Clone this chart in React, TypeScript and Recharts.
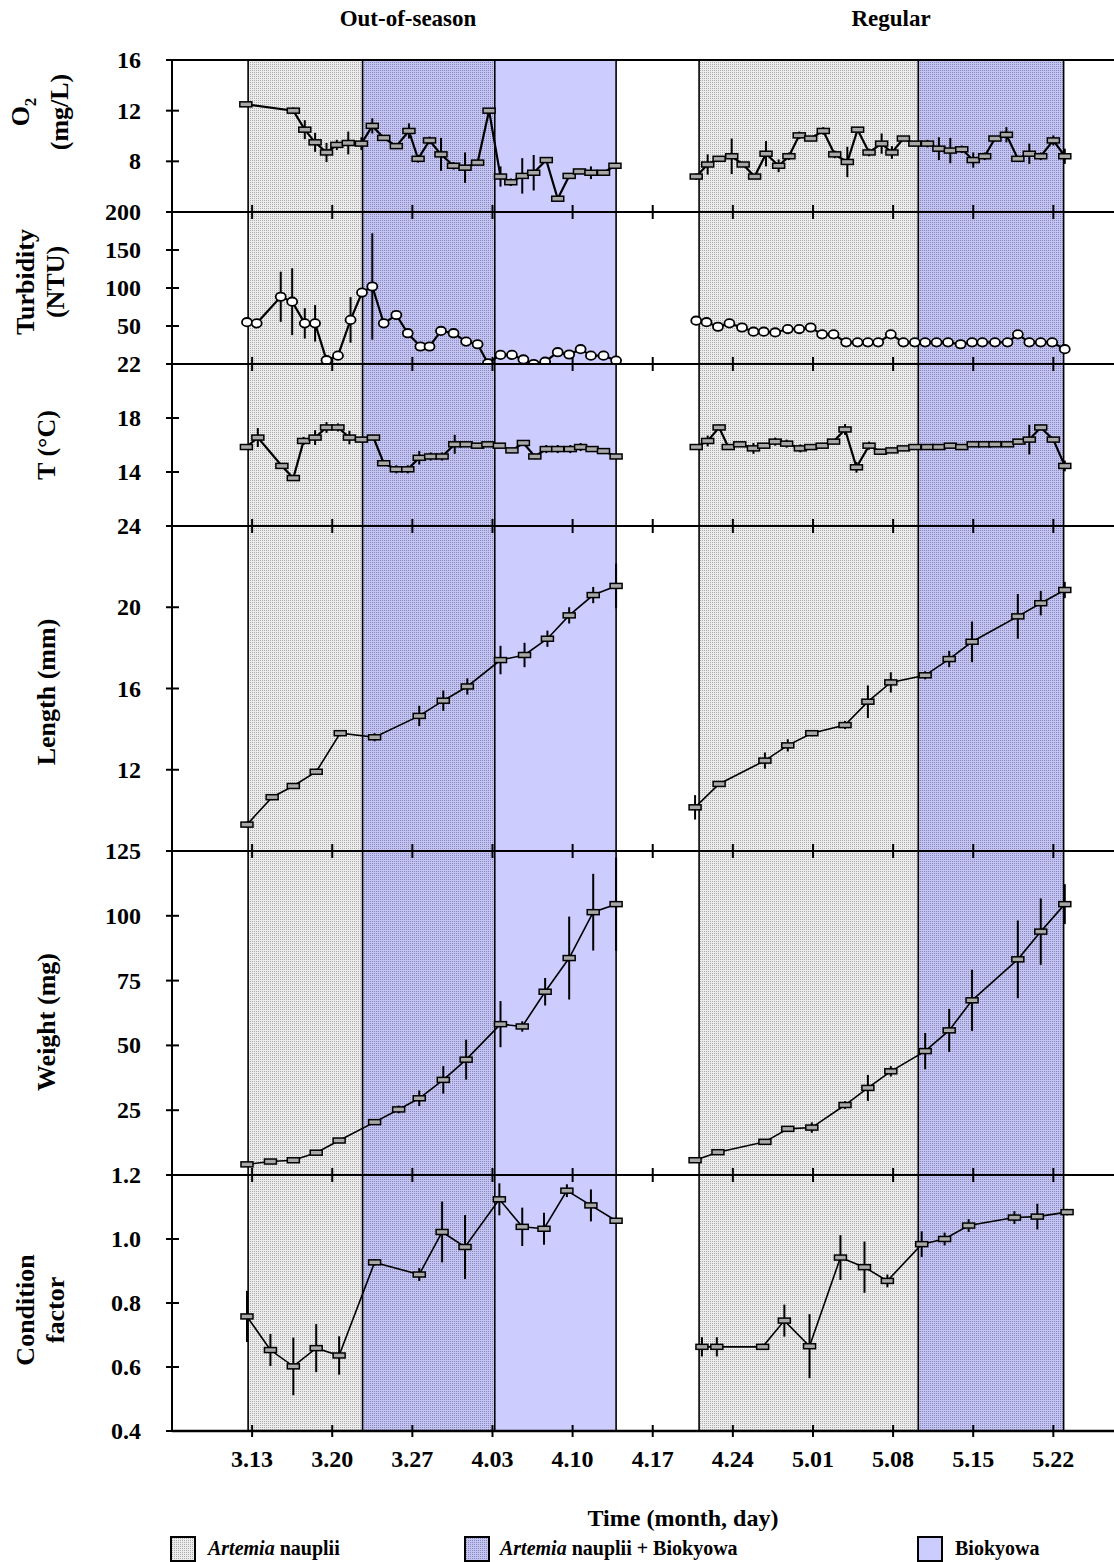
import React from 'react';
import { ComposedChart, Line, XAxis, YAxis, ReferenceArea, ReferenceLine, ErrorBar } from 'recharts';

// [day since 3.13, mean, sd]
type Pt = [number, number, number];

const weekTicks = [0, 7, 14, 21, 28, 35, 42, 49, 56, 63, 70];
const weekLabels = ['3.13', '3.20', '3.27', '4.03', '4.10', '4.17', '4.24', '5.01', '5.08', '5.15', '5.22'];

// feeding periods, in days
const outArtemia = [-0.35, 9.65];
const outMixed = [9.65, 21.2];
const outBio = [21.2, 31.8];
const regArtemia = [39.05, 58.2];
const regMixed = [58.2, 70.9];
const periodEdges = [-0.35, 9.65, 21.2, 31.8, 39.05, 58.2, 70.9];

const o2Out: Pt[] = [
  [-0.55, 12.5, 0.15], [3.6, 12.0, 0.25], [4.6, 10.5, 0.75], [5.5, 9.5, 0.75], [6.5, 8.7, 0.75],
  [7.4, 9.3, 0.4], [8.4, 9.45, 0.9], [9.55, 9.4, 0.5], [10.5, 10.8, 0.6], [11.5, 9.85, 0.2],
  [12.6, 9.2, 0.2], [13.7, 10.4, 0.6], [14.5, 8.2, 0.3], [15.5, 9.65, 0.3], [16.5, 8.55, 1.3],
  [17.6, 7.65, 0.3], [18.6, 7.5, 1.2], [19.7, 7.9, 0.2], [20.7, 12.0, 0.2], [21.7, 6.8, 0.8],
  [22.6, 6.35, 0.3], [23.6, 6.85, 1.4], [24.6, 7.1, 1.4], [25.7, 8.1, 0.2], [26.7, 5.05, 0.2],
  [27.7, 6.85, 0.2], [28.6, 7.2, 0.2], [29.6, 7.1, 0.5], [30.7, 7.1, 0.2], [31.7, 7.65, 0.2],
];
const o2Reg: Pt[] = [
  [38.8, 6.8, 0.25], [39.8, 7.75, 0.8], [40.8, 8.2, 0.2], [41.9, 8.4, 1.4], [42.9, 7.75, 0.2],
  [43.9, 6.8, 0.2], [44.9, 8.6, 1.0], [46.0, 7.65, 0.5], [46.9, 8.4, 0.3], [47.8, 10.05, 0.3],
  [48.8, 9.8, 0.2], [49.9, 10.4, 0.3], [50.9, 8.55, 0.3], [52.0, 7.95, 1.2], [52.9, 10.5, 0.2],
  [53.9, 8.7, 0.3], [55.0, 9.4, 0.8], [55.9, 8.7, 0.5], [56.9, 9.8, 0.2], [57.9, 9.4, 0.2],
  [59.0, 9.4, 0.3], [60.0, 9.0, 0.9], [61.0, 8.85, 1.0], [62.0, 8.95, 0.3], [63.0, 8.1, 0.6],
  [64.0, 8.4, 0.3], [64.9, 9.8, 0.2], [65.9, 10.1, 0.6], [66.9, 8.2, 0.2], [67.9, 8.6, 0.8],
  [68.9, 8.4, 0.3], [70.0, 9.65, 0.4], [71.0, 8.4, 0.6],
];

const turbOut: Pt[] = [
  [-0.45, 55, 6], [0.4, 53.5, 0], [2.5, 88.5, 33], [3.5, 82, 44], [4.6, 53.5, 20],
  [5.5, 53.5, 24], [6.5, 5, 0], [7.5, 11, 0], [8.6, 58, 30], [9.6, 94, 0],
  [10.5, 102, 70], [11.5, 53.5, 0], [12.6, 64.5, 0], [13.6, 40.5, 0], [14.7, 23, 0],
  [15.5, 23, 0], [16.5, 43.5, 0], [17.6, 40.5, 0], [18.7, 29.5, 0], [19.7, 26, 0],
  [20.6, 1, 0], [21.7, 12, 0], [22.7, 12, 0], [23.7, 6, 0], [24.6, 0, 0],
  [25.6, 3, 0], [26.7, 15.5, 0], [27.7, 12.5, 0], [28.7, 19.5, 0], [29.6, 11, 0],
  [30.7, 11, 0], [31.8, 4.5, 0],
];
const turbReg: Pt[] = [
  [38.8, 57, 0], [39.7, 55, 0], [40.7, 49, 0], [41.7, 53.5, 0], [42.8, 48, 0],
  [43.8, 42.5, 0], [44.7, 42.5, 0], [45.7, 41.5, 0], [46.8, 46, 0], [47.8, 46, 0],
  [48.8, 48, 0], [49.8, 39, 0], [50.8, 39, 0], [51.9, 28.5, 0], [52.9, 28.5, 0],
  [53.8, 28.5, 0], [54.7, 28.5, 0], [55.8, 39, 0], [56.9, 28.5, 0], [57.9, 28.5, 0],
  [58.8, 28.5, 0], [59.8, 28.5, 0], [60.8, 28.5, 0], [61.9, 26, 0], [62.9, 28.5, 0],
  [63.8, 28.5, 0], [64.9, 28.5, 0], [66.0, 28.5, 0], [66.9, 39, 0], [67.9, 28.5, 0],
  [68.9, 28.5, 0], [69.9, 28.5, 0], [71.0, 19.5, 0],
];

const tOut: Pt[] = [
  [-0.5, 15.85, 0.15], [0.5, 16.55, 0.7], [2.6, 14.45, 0.2], [3.6, 13.55, 0.15], [4.5, 16.3, 0.3],
  [5.5, 16.55, 0.55], [6.5, 17.3, 0.4], [7.5, 17.3, 0.3], [8.5, 16.55, 0.5], [9.55, 16.4, 0.2],
  [10.6, 16.55, 0.2], [11.5, 14.65, 0.2], [12.6, 14.2, 0.3], [13.6, 14.2, 0.3], [14.6, 15.05, 0.5],
  [15.6, 15.15, 0.3], [16.6, 15.15, 0.3], [17.7, 16.05, 0.7], [18.7, 16.05, 0.2], [19.7, 15.95, 0.2],
  [20.6, 16.05, 0.2], [21.6, 15.95, 0.2], [22.7, 15.6, 0.2], [23.7, 16.15, 0.2], [24.7, 15.15, 0.2],
  [25.7, 15.7, 0.3], [26.7, 15.7, 0.3], [27.8, 15.7, 0.3], [28.7, 15.85, 0.3], [29.7, 15.7, 0.2],
  [30.7, 15.55, 0.2], [31.8, 15.15, 0.2],
];
const tReg: Pt[] = [
  [38.8, 15.85, 0.15], [39.8, 16.3, 0.4], [40.8, 17.3, 0.2], [41.6, 15.85, 0.2], [42.6, 16.05, 0.2],
  [43.8, 15.75, 0.4], [44.7, 15.95, 0.2], [45.7, 16.25, 0.3], [46.7, 16.1, 0.3], [47.9, 15.75, 0.3],
  [48.8, 15.85, 0.2], [49.8, 15.95, 0.2], [50.8, 16.25, 0.2], [51.8, 17.15, 0.4], [52.8, 14.35, 0.4],
  [53.9, 15.95, 0.3], [54.9, 15.5, 0.2], [55.9, 15.6, 0.2], [56.9, 15.75, 0.2], [57.9, 15.85, 0.2],
  [59.0, 15.85, 0.2], [60.0, 15.85, 0.2], [61.0, 15.95, 0.2], [62.0, 15.85, 0.2], [63.0, 16.05, 0.2],
  [64.0, 16.05, 0.2], [64.9, 16.05, 0.2], [66.0, 16.05, 0.2], [67.0, 16.25, 0.2], [67.9, 16.4, 1.1],
  [68.9, 17.3, 0.2], [70.0, 16.4, 0.2], [71.0, 14.45, 0.4],
];

const lenOut: Pt[] = [
  [-0.45, 9.3, 0.15], [1.75, 10.65, 0.15], [3.6, 11.2, 0.15], [5.6, 11.9, 0.15], [7.7, 13.8, 0.15],
  [10.7, 13.6, 0.2], [14.6, 14.65, 0.5], [16.7, 15.4, 0.5], [18.8, 16.1, 0.4], [21.7, 17.4, 0.7],
  [23.8, 17.65, 0.6], [25.8, 18.45, 0.4], [27.7, 19.6, 0.4], [29.8, 20.6, 0.4], [31.8, 21.05, 1.1],
];
const lenReg: Pt[] = [
  [38.7, 10.15, 0.6], [40.8, 11.3, 0.15], [44.8, 12.45, 0.4], [46.8, 13.2, 0.3], [48.9, 13.8, 0.15],
  [51.8, 14.2, 0.2], [53.8, 15.35, 0.8], [55.8, 16.3, 0.5], [58.8, 16.65, 0.2], [60.9, 17.45, 0.4],
  [62.9, 18.3, 1.0], [66.9, 19.55, 1.1], [68.9, 20.2, 0.6], [71.0, 20.85, 0.4],
];

const wOut: Pt[] = [
  [-0.45, 4.1, 0.5], [1.6, 5.2, 0.5], [3.6, 5.7, 0.6], [5.6, 8.6, 0.7], [7.6, 13.3, 0.8],
  [10.7, 20.4, 0.8], [12.8, 25.3, 1.5], [14.6, 29.6, 3], [16.7, 36.7, 5.3], [18.7, 44.5, 7.7],
  [21.7, 58.2, 8.9], [23.6, 57.3, 2], [25.6, 70.7, 5.3], [27.7, 83.7, 16], [29.8, 101.4, 14.8],
  [31.8, 104.5, 18],
];
const wReg: Pt[] = [
  [38.7, 5.7, 0.5], [40.7, 8.8, 0.5], [44.8, 12.8, 0.8], [46.8, 17.8, 1], [48.9, 18.3, 2],
  [51.8, 27.0, 1.5], [53.8, 33.6, 5], [55.8, 40.0, 2], [58.8, 47.8, 7], [60.9, 55.8, 8.3],
  [62.9, 67.4, 11.8], [66.9, 83.2, 15], [68.9, 93.9, 12.8], [71.0, 104.5, 7.7],
];

const cfOut: Pt[] = [
  [-0.45, 0.758, 0.08], [1.6, 0.653, 0.05], [3.6, 0.602, 0.09], [5.6, 0.659, 0.075], [7.6, 0.636, 0.06],
  [10.7, 0.927, 0.01], [14.6, 0.889, 0.02], [16.6, 1.022, 0.095], [18.6, 0.975, 0.1], [21.6, 1.124, 0.05],
  [23.6, 1.038, 0.06], [25.5, 1.032, 0.05], [27.5, 1.151, 0.02], [29.6, 1.105, 0.05], [31.8, 1.057, 0.01],
];
const cfReg: Pt[] = [
  [39.3, 0.663, 0.03], [40.6, 0.663, 0.03], [44.6, 0.663, 0.01], [46.5, 0.745, 0.05], [48.7, 0.665, 0.1],
  [51.4, 0.942, 0.07], [53.5, 0.912, 0.08], [55.5, 0.869, 0.02], [58.5, 0.984, 0.04], [60.5, 1.0, 0.02],
  [62.6, 1.042, 0.02], [66.6, 1.067, 0.02], [68.6, 1.07, 0.04], [71.2, 1.084, 0.01],
];

const X_DOMAIN: [number, number] = [-7, 75.3];
const FONT = '"Liberation Serif", "Times New Roman", serif';
const W = 1114;
const LEFT = 172;

const toRows = (pts: Pt[]) => pts.map(([d, v, e]) => ({ d, v, e }));

const boxDot = (props: any) => {
  const { cx, cy, index } = props;
  if (cx == null || cy == null) return <g key={index} />;
  return <rect key={index} x={cx - 6} y={cy - 2.5} width={12} height={5} fill="#a8a8a8" stroke="#000" strokeWidth={1.5} />;
};
const ringDot = (props: any) => {
  const { cx, cy, index } = props;
  if (cx == null || cy == null) return <g key={index} />;
  return <ellipse key={index} cx={cx} cy={cy} rx={5} ry={4.2} fill="#fff" stroke="#000" strokeWidth={1.8} />;
};

type PanelProps = {
  top: number;
  bottom: number;
  domain: [number, number];
  ticks: number[];
  fmt: (v: number) => string;
  series: Pt[][];
  ring?: boolean;
  lineWidth: number;
  first?: boolean;
  last?: boolean;
};

function Panel({ top, bottom, domain, ticks, fmt, series, ring, lineWidth, first, last }: PanelProps) {
  const M = 14;
  const MB = last ? 60 : 14;
  const h = bottom - top;

  const yTick = (p: any) => (
    <g>
      <line x1={166} x2={179} y1={p.y} y2={p.y} stroke="#000" strokeWidth={2} />
      <text x={141} y={p.y} textAnchor="end" dominantBaseline="central"
        style={{ fontFamily: FONT, fontWeight: 700, fontSize: 24, fill: '#000' }}>
        {fmt(p.payload.value)}
      </text>
    </g>
  );
  const topTick = (p: any) => (
    <line x1={p.x} x2={p.x} y1={M - 7} y2={M + 7} stroke="#000" strokeWidth={2} />
  );
  const bottomTick = (p: any) => {
    const i = weekTicks.indexOf(p.payload.value);
    const ay = M + h;
    return (
      <g>
        <line x1={p.x} x2={p.x} y1={ay - 6} y2={ay + 6} stroke="#000" strokeWidth={2} />
        <text x={p.x} y={ay + 28} textAnchor="middle" dominantBaseline="central"
          style={{ fontFamily: FONT, fontWeight: 700, fontSize: 24, fill: '#000' }}>
          {weekLabels[i]}
        </text>
      </g>
    );
  };

  return (
    <div style={{ position: 'absolute', left: 0, top: top - M }}>
      <ComposedChart width={W} height={h + M + MB} margin={{ top: 0, right: 0, bottom: last ? 0 : MB, left: 0 }}>
        <XAxis xAxisId="b" type="number" dataKey="d" domain={X_DOMAIN} ticks={weekTicks} allowDataOverflow
          height={MB} hide={!last} axisLine={{ stroke: '#000', strokeWidth: 2.5 }} tickLine={false}
          tick={last ? bottomTick : false} interval={0} />
        <XAxis xAxisId="t" orientation="top" type="number" dataKey="d" domain={X_DOMAIN}
          ticks={weekTicks} allowDataOverflow height={M} axisLine={{ stroke: '#000', strokeWidth: 2 }}
          tickLine={false} tick={first ? false : topTick} interval={0} />
        <YAxis yAxisId="y" type="number" domain={domain} ticks={ticks} width={LEFT} allowDataOverflow
          axisLine={{ stroke: '#000', strokeWidth: 2 }} tickLine={false} tick={yTick} interval={0} />

        <ReferenceArea xAxisId="b" yAxisId="y" x1={outArtemia[0]} x2={outArtemia[1]} fill="url(#stipGrey)" fillOpacity={1} stroke="none" />
        <ReferenceArea xAxisId="b" yAxisId="y" x1={outMixed[0]} x2={outMixed[1]} fill="url(#stipPurple)" fillOpacity={1} stroke="none" />
        <ReferenceArea xAxisId="b" yAxisId="y" x1={outBio[0]} x2={outBio[1]} fill="#ccccff" fillOpacity={1} stroke="none" />
        <ReferenceArea xAxisId="b" yAxisId="y" x1={regArtemia[0]} x2={regArtemia[1]} fill="url(#stipGrey)" fillOpacity={1} stroke="none" />
        <ReferenceArea xAxisId="b" yAxisId="y" x1={regMixed[0]} x2={regMixed[1]} fill="url(#stipPurple)" fillOpacity={1} stroke="none" />
        {periodEdges.map((x) => (
          <ReferenceLine key={x} xAxisId="b" yAxisId="y" x={x} stroke="#000" strokeWidth={1.6} />
        ))}

        {series.map((s, i) => (
          <Line key={`l${i}`} data={toRows(s)} dataKey="v" xAxisId="b" yAxisId="y" type="linear"
            stroke="#000" strokeWidth={lineWidth} dot={ring ? ringDot : boxDot} activeDot={false}
            isAnimationActive={false} />
        ))}
        {series.map((s, i) => (
          <Line key={`e${i}`} data={toRows(s)} dataKey="v" xAxisId="b" yAxisId="y" stroke="none"
            dot={false} activeDot={false} isAnimationActive={false}>
            <ErrorBar dataKey="e" width={0} stroke="#000" strokeWidth={2} direction="y" />
          </Line>
        ))}
      </ComposedChart>
    </div>
  );
}

const textBase: React.CSSProperties = {
  position: 'absolute',
  fontFamily: FONT,
  fontWeight: 700,
  color: '#000',
  whiteSpace: 'nowrap',
};

function SideLabel({ x, y, children }: { x: number; y: number; children: React.ReactNode }) {
  return (
    <div style={{ ...textBase, left: x, top: y, fontSize: 26, lineHeight: '30px', textAlign: 'center',
      transform: 'translate(-50%, -50%) rotate(-90deg)' }}>
      {children}
    </div>
  );
}

function Swatch({ x, fill }: { x: number; fill: string }) {
  return (
    <svg width={26} height={26} style={{ position: 'absolute', left: x - 1, top: 1536 }}>
      <rect x={1} y={1} width={24} height={24} fill={fill} stroke="#000" strokeWidth={2} />
    </svg>
  );
}

export default function App() {
  return (
    <div style={{ position: 'absolute', left: 0, top: 0, width: W, height: 1562, overflow: 'hidden', background: '#fff' }}>
      <svg width={0} height={0} style={{ position: 'absolute' }}>
        <defs>
          <pattern id="stipGrey" width={2} height={2} patternUnits="userSpaceOnUse">
            <rect width={2} height={2} fill="#ececec" />
            <rect width={1} height={1} fill="#adadad" />
          </pattern>
          <pattern id="stipPurple" width={2} height={2} patternUnits="userSpaceOnUse">
            <rect width={2} height={2} fill="#c4c4f2" />
            <rect width={1} height={1} fill="#8888bc" />
          </pattern>
        </defs>
      </svg>

      <div style={{ ...textBase, left: 408, top: 6, fontSize: 23, transform: 'translateX(-50%)' }}>Out-of-season</div>
      <div style={{ ...textBase, left: 891, top: 6, fontSize: 23, transform: 'translateX(-50%)' }}>Regular</div>

      <Panel first top={60} bottom={212} domain={[4, 16]} ticks={[8, 12, 16]} fmt={(v) => String(v)}
        series={[o2Out, o2Reg]} lineWidth={2.2} />
      <Panel top={212} bottom={364} domain={[0, 200]} ticks={[50, 100, 150, 200]} fmt={(v) => String(v)}
        series={[turbOut, turbReg]} ring lineWidth={2.2} />
      <Panel top={364} bottom={526} domain={[10, 22]} ticks={[14, 18, 22]} fmt={(v) => String(v)}
        series={[tOut, tReg]} lineWidth={2.2} />
      <Panel top={526} bottom={851} domain={[8, 24]} ticks={[12, 16, 20, 24]} fmt={(v) => String(v)}
        series={[lenOut, lenReg]} lineWidth={1.6} />
      <Panel top={851} bottom={1175} domain={[0, 125]} ticks={[25, 50, 75, 100, 125]} fmt={(v) => String(v)}
        series={[wOut, wReg]} lineWidth={1.6} />
      <Panel last top={1175} bottom={1431} domain={[0.4, 1.2]} ticks={[0.4, 0.6, 0.8, 1.0, 1.2]}
        fmt={(v) => v.toFixed(1)} series={[cfOut, cfReg]} lineWidth={1.6} />

      <SideLabel x={41} y={112}>O<sub style={{ fontSize: 17 }}>2</sub><br />(mg/L)</SideLabel>
      <SideLabel x={41} y={282}>Turbidity<br />(NTU)</SideLabel>
      <SideLabel x={47} y={445}>T (°C)</SideLabel>
      <SideLabel x={47} y={692}>Length (mm)</SideLabel>
      <SideLabel x={47} y={1022}>Weight (mg)</SideLabel>
      <SideLabel x={41} y={1310}>Condition<br />factor</SideLabel>

      <div style={{ ...textBase, left: 683, top: 1518, fontSize: 24, transform: 'translate(-50%, -50%)' }}>
        Time (month, day)
      </div>

      <Swatch x={171} fill="url(#stipGrey)" />
      <div style={{ ...textBase, left: 208, top: 1548, fontSize: 20, transform: 'translateY(-50%)' }}>
        <i>Artemia</i> nauplii
      </div>
      <Swatch x={465} fill="url(#stipPurple)" />
      <div style={{ ...textBase, left: 500, top: 1548, fontSize: 20, transform: 'translateY(-50%)' }}>
        <i>Artemia</i> nauplii + Biokyowa
      </div>
      <Swatch x={918} fill="#ccccff" />
      <div style={{ ...textBase, left: 955, top: 1548, fontSize: 20, transform: 'translateY(-50%)' }}>
        Biokyowa
      </div>
    </div>
  );
}
